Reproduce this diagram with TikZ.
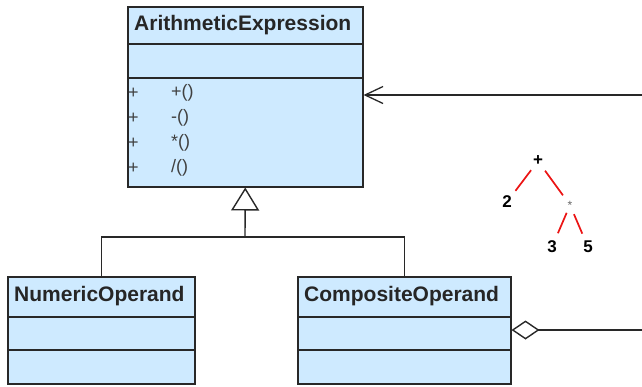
\documentclass[tikz,border=0pt]{standalone}
\usepackage{fontspec}
\setmainfont{Liberation Sans}
\usetikzlibrary{arrows.meta}
\definecolor{umlfill}{RGB}{206,234,255}
\definecolor{umlline}{RGB}{40,40,40}
\definecolor{treered}{RGB}{235,20,20}
\tikzset{
  umlbox/.style={draw=umlline, fill=umlfill, line width=1.5pt, inner sep=0, anchor=north west},
  divider/.style={draw=umlline, line width=1.3pt},
  title/.style={font=\fontsize{21}{24}\selectfont\bfseries, text=black!85, anchor=west, inner sep=0},
  op/.style={font=\fontsize{18}{21}\selectfont, text=black!75, anchor=west, inner sep=0},
  conn/.style={draw=umlline, line width=1.4pt},
  treetxt/.style={font=\fontsize{17}{20}\selectfont\bfseries, inner sep=0},
  treeline/.style={draw=treered, line width=1.7pt},
}
\begin{document}
\begin{tikzpicture}[x=1pt,y=-1pt]
\useasboundingbox (0,0) rectangle (642,386);
% ArithmeticExpression
\node[umlbox, minimum width=235, minimum height=180] (ae) at (127,6) {};
\node[title] (aet) at (134,25) {ArithmeticExpression};
\draw[divider] (ae.west |- 0,44) -- (ae.east |- 0,44);
\draw[divider] (ae.west |- 0,78) -- (ae.east |- 0,78);
\node[op] (v1) at (128,93) {+};
\node[op] (o1) at (171,93) {+()};
\node[op] (v2) at (128,118) {+};
\node[op] (o2) at (171,118) {-()};
\node[op] (v3) at (128,143) {+};
\node[op] (o3) at (171,143) {*()};
\node[op] (v4) at (128,168) {+};
\node[op] (o4) at (171,168) {/()};
% NumericOperand
\node[umlbox, minimum width=187, minimum height=107] (no) at (7,276) {};
\node[title] (not) at (14,296) {NumericOperand};
\draw[divider] (no.west |- 0,317) -- (no.east |- 0,317);
\draw[divider] (no.west |- 0,350) -- (no.east |- 0,350);
% CompositeOperand
\node[umlbox, minimum width=213, minimum height=107] (co) at (297,276) {};
\node[title] (cot) at (304,296) {CompositeOperand};
\draw[divider] (co.west |- 0,317) -- (co.east |- 0,317);
\draw[divider] (co.west |- 0,350) -- (co.east |- 0,350);
% generalization
\coordinate (j) at (245,237);
\draw[conn] (no.north) -- (no.north |- j) -- (co.north |- j) -- (co.north);
\draw[conn, -{Triangle[open, length=23, width=28, line width=1.4pt]}] (j) -- (ae.south);
% association arrow
\coordinate (ra) at (642,95);
\draw[conn, -{Straight Barb[length=18, width=17, line width=1.3pt]}] (ra) -- (ra -| ae.east);
% aggregation
\coordinate (rb) at (642,330);
\draw[conn, {Diamond[open, length=28, width=19, line width=1.4pt]}-] (co.east |- rb) -- (rb);
% tree
\node[treetxt] (t1) at (538,161) {+};
\node[treetxt] (t2) at (507,202) {2};
\node[treetxt, font=\fontsize{12}{13}\selectfont, text=black!60] (t3) at (570,205) {*};
\node[treetxt] (t4) at (552,247) {3};
\node[treetxt] (t5) at (588,247) {5};
\draw[treeline, shorten <=11.5pt, shorten >=14pt] (t1.center) -- (t2.center);
\draw[treeline, shorten <=12pt, shorten >=12pt] (t1.center) -- (t3.center);
\draw[treeline, shorten <=8.5pt, shorten >=15pt] (t3.center) -- (t4.center);
\draw[treeline, shorten <=10pt, shorten >=14.5pt] (t3.center) -- (t5.center);
\end{tikzpicture}
\end{document}
